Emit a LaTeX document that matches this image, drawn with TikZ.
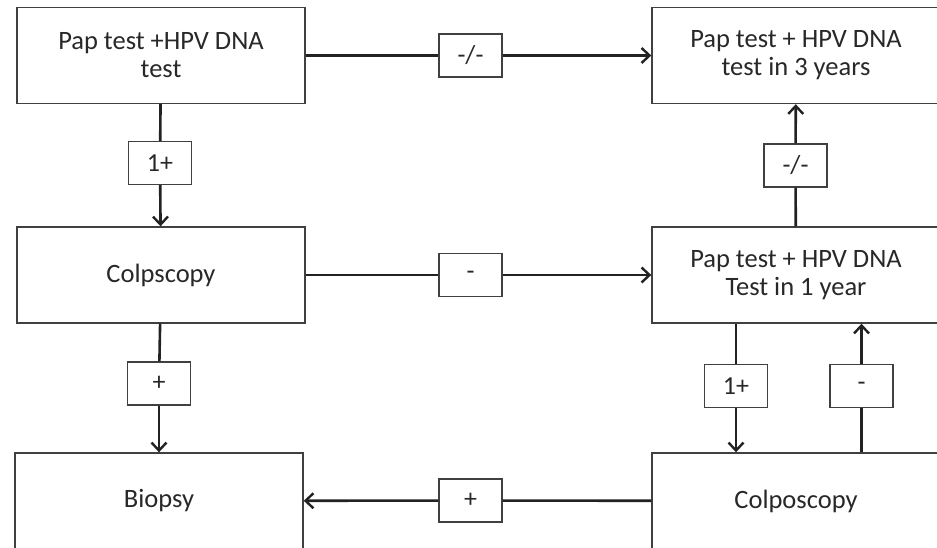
\documentclass[tikz,border=0pt]{standalone}
\usepackage{fontspec}
\setmainfont{Carlito}
\usepackage{xcolor}
\usetikzlibrary{arrows.meta}
\definecolor{boxLine}{RGB}{64, 64, 64}
\definecolor{linkLine}{RGB}{34, 34, 34}
\definecolor{textGray}{RGB}{40, 40, 40}

\tikzset{
  stagebox/.style={draw=boxLine, line width=1.4pt, fill=white, text=textGray, minimum width=288pt, minimum height=96pt, align=center, font=\fontsize{26.5}{28}\selectfont},
  resultbox/.style={draw=boxLine, line width=1.4pt, fill=white, text=textGray, minimum width=63pt, minimum height=43pt, inner sep=0pt, font=\fontsize{26}{28}\selectfont},
  link/.style={draw=linkLine, line width=2.6pt},
  linkarrow/.style={link, -{Straight Barb[length=8pt, width=15pt, line width=2.4pt]}}
}

\begin{document}
\begin{tikzpicture}[x=1pt, y=-1pt]
\useasboundingbox (0,0) rectangle (937,548);
\clip (0,0) rectangle (937,548);
% Stage boxes
\node[stagebox] (coTest) at (161,55.5) {Pap test +HPV DNA\\test};
\node[stagebox] (threeYears) at (796,55.5) {Pap test + HPV DNA\\test in 3 years};
\node[stagebox] (colpoLeft) at (161,275) {Colpscopy};
\node[stagebox] (oneYear) at (796,275) {Pap test + HPV DNA\\Test in 1 year};
\node[stagebox] (biopsy) at (159,501) {Biopsy};
\node[stagebox] (colpoRight) at (796,501) {Colposcopy};

% Result boxes
\node[resultbox] (resNeg) at (470.5,55.5) {-/-};
\node[resultbox] (resPos) at (160,163) {1+};
\node[resultbox] (resNegUp) at (795.5,165.5) {-/-};
\node[resultbox] (resMinus) at (470.5,275) {-};
\node[resultbox] (resPlus) at (159,383.5) {+};
\node[resultbox] (resPosDown) at (736,386) {1+};
\node[resultbox] (resMinusUp) at (861.5,386) {-};
\node[resultbox] (resBiopsy) at (470.5,500.5) {+};

% Connectors
\draw[link] (coTest) -- (resNeg);
\draw[linkarrow] (resNeg) -- (threeYears);
\draw[link] (coTest) -- (resPos);
\draw[linkarrow] (resPos) -- (colpoLeft);
\draw[link] (colpoLeft) -- (resMinus);
\draw[linkarrow] (resMinus) -- (oneYear);
\draw[link] (oneYear) -- (resNegUp);
\draw[linkarrow] (resNegUp) -- (threeYears);
\draw[link] (colpoLeft) -- (resPlus);
\draw[linkarrow] (resPlus) -- (biopsy);
\draw[link] (resPosDown.north |- oneYear.south) -- (resPosDown.north);
\draw[linkarrow] (resPosDown.south) -- (resPosDown.south |- colpoRight.north);
\draw[link] (resMinusUp.south |- colpoRight.north) -- (resMinusUp.south);
\draw[linkarrow] (resMinusUp.north) -- (resMinusUp.north |- oneYear.south);
\draw[link] (colpoRight) -- (resBiopsy);
\draw[linkarrow] (resBiopsy) -- (biopsy);
\end{tikzpicture}
\end{document}
